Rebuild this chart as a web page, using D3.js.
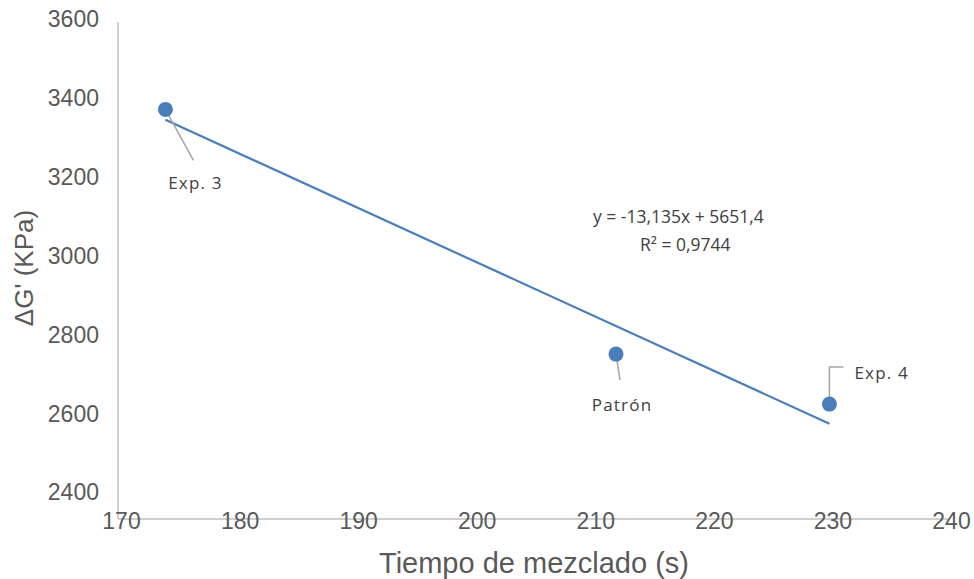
<!DOCTYPE html>
<html>
<head>
<meta charset="utf-8">
<script src="https://cdn.jsdelivr.net/npm/d3@7"></script>
<style>
  html, body { margin: 0; padding: 0; background: #ffffff; }
  svg { display: block; }
</style>
</head>
<body>
<svg id="chart" width="974" height="579"></svg>
<script>
// ---- data ----
const labels = ["Exp. 3", "Patrón", "Exp. 4"];
const tiempo = [174, 212, 230];
const deltaG = [3391, 2799, 2678];
const xTicks = [170, 180, 190, 200, 210, 220, 230, 240];
const yTicks = [2400, 2600, 2800, 3000, 3200, 3400, 3600];
const trendSlope = -13.135;
const trendIntercept = 5651.4;
const equationLines = ["y = -13,135x + 5651,4", "R² = 0,9744"];

// ---- layout ----
const W = 974, H = 579;
const svg = d3.select("#chart");
svg.append("rect").attr("width", W).attr("height", H).attr("fill", "#fff");

const x = d3.scaleLinear().domain([170, 240]).range([118, 948]);
const y = d3.scaleLinear().domain([2400, 3600]).range([519, 23]);
// tick labels sit slightly offset from the plotted positions in the reference
const yLab = d3.scaleLinear().domain([2400, 3600]).range([491.7, 18.7]);

const tickFont = "'Liberation Sans', Arial, sans-serif";
const lblFont = "'Open Sans', 'Noto Sans', sans-serif";
const axisColor = "#bfbfbf";
const textColor = "#595959";
const blue = "#4a7ebb";

// vertical axis line
svg.append("line")
  .attr("x1", x(170)).attr("x2", x(170))
  .attr("y1", y(3600) - 1).attr("y2", y(2400))
  .attr("stroke", axisColor).attr("stroke-width", 1.5);

// horizontal axis line
svg.append("line")
  .attr("x1", x(170)).attr("x2", x(240))
  .attr("y1", y(2400)).attr("y2", y(2400))
  .attr("stroke", axisColor).attr("stroke-width", 1.5);

// x tick labels
const xAxis = svg.append("g")
  .attr("transform", `translate(0,${y(2400)})`)
  .call(d3.axisBottom(x).tickValues(xTicks).tickSize(0).tickPadding(0).tickFormat(d3.format("d")));
xAxis.select(".domain").remove();
xAxis.selectAll("text")
  .attr("font-family", tickFont).attr("font-size", 23)
  .attr("fill", textColor)
  .attr("dx", 3)
  .attr("y", 0).attr("dy", 10);

// y tick labels
const yAxis = svg.append("g")
  .attr("transform", `translate(99,0)`)
  .call(d3.axisLeft(yLab).tickValues(yTicks).tickSize(0).tickPadding(0).tickFormat(d3.format("d")));
yAxis.select(".domain").remove();
yAxis.selectAll("text")
  .attr("font-family", tickFont).attr("font-size", 23)
  .attr("fill", textColor)
  .attr("dy", "0.36em");

// axis titles
svg.append("text")
  .attr("x", 534).attr("y", 573)
  .attr("text-anchor", "middle")
  .attr("font-family", tickFont).attr("font-size", 29)
  .attr("fill", textColor)
  .text("Tiempo de mezclado (s)");

svg.append("text")
  .attr("transform", "translate(33,268) rotate(-90)")
  .attr("text-anchor", "middle")
  .attr("font-family", tickFont).attr("font-size", 26)
  .attr("fill", textColor)
  .text("ΔG' (KPa)");

// trendline (over the data range)
const xMin = d3.min(tiempo), xMax = d3.max(tiempo);
const trendPts = [xMin, xMax].map(v => [v, trendSlope * v + trendIntercept]);
svg.append("path")
  .datum(trendPts)
  .attr("fill", "none")
  .attr("stroke", blue)
  .attr("stroke-width", 2.2)
  .attr("d", d3.line().x(d => x(d[0])).y(d => y(d[1])));

// leader lines and labels (offsets in pixels from the point)
const annot = [
  { leader: [[0, 0], [28, 51]], tx: 30, ty: 80, anchor: "middle" },
  { leader: [[0, 0], [4, 26]], tx: 6, ty: 57, anchor: "middle" },
  { leader: [[0, -4], [0, -37], [14, -37]], tx: 25, ty: -25, anchor: "start" }
];

const pts = tiempo.map((t, i) => ({ t, g: deltaG[i], label: labels[i], a: annot[i] }));

svg.selectAll(".leader").data(pts).enter().append("path")
  .attr("class", "leader")
  .attr("fill", "none")
  .attr("stroke", "#a6a6a6")
  .attr("stroke-width", 1.5)
  .attr("d", d => d3.line()(d.a.leader.map(p => [x(d.t) + p[0], y(d.g) + p[1]])));

svg.selectAll(".pt").data(pts).enter().append("circle")
  .attr("class", "pt")
  .attr("cx", d => x(d.t)).attr("cy", d => y(d.g))
  .attr("r", 7.5)
  .attr("fill", blue);

svg.selectAll(".lbl").data(pts).enter().append("text")
  .attr("class", "lbl")
  .attr("x", d => x(d.t) + d.a.tx)
  .attr("y", d => y(d.g) + d.a.ty)
  .attr("text-anchor", d => d.a.anchor)
  .attr("font-family", lblFont).attr("font-size", 17)
  .attr("letter-spacing", 1.2)
  .attr("fill", "#404040")
  .text(d => d.label);

// equation
svg.append("text")
  .attr("x", 593).attr("y", 223)
  .attr("font-family", lblFont).attr("font-size", 17.5)
  .attr("fill", "#404040")
  .text(equationLines[0]);
svg.append("text")
  .attr("x", 640).attr("y", 251)
  .attr("font-family", lblFont).attr("font-size", 17.5)
  .attr("fill", "#404040")
  .text(equationLines[1]);
</script>
</body>
</html>
